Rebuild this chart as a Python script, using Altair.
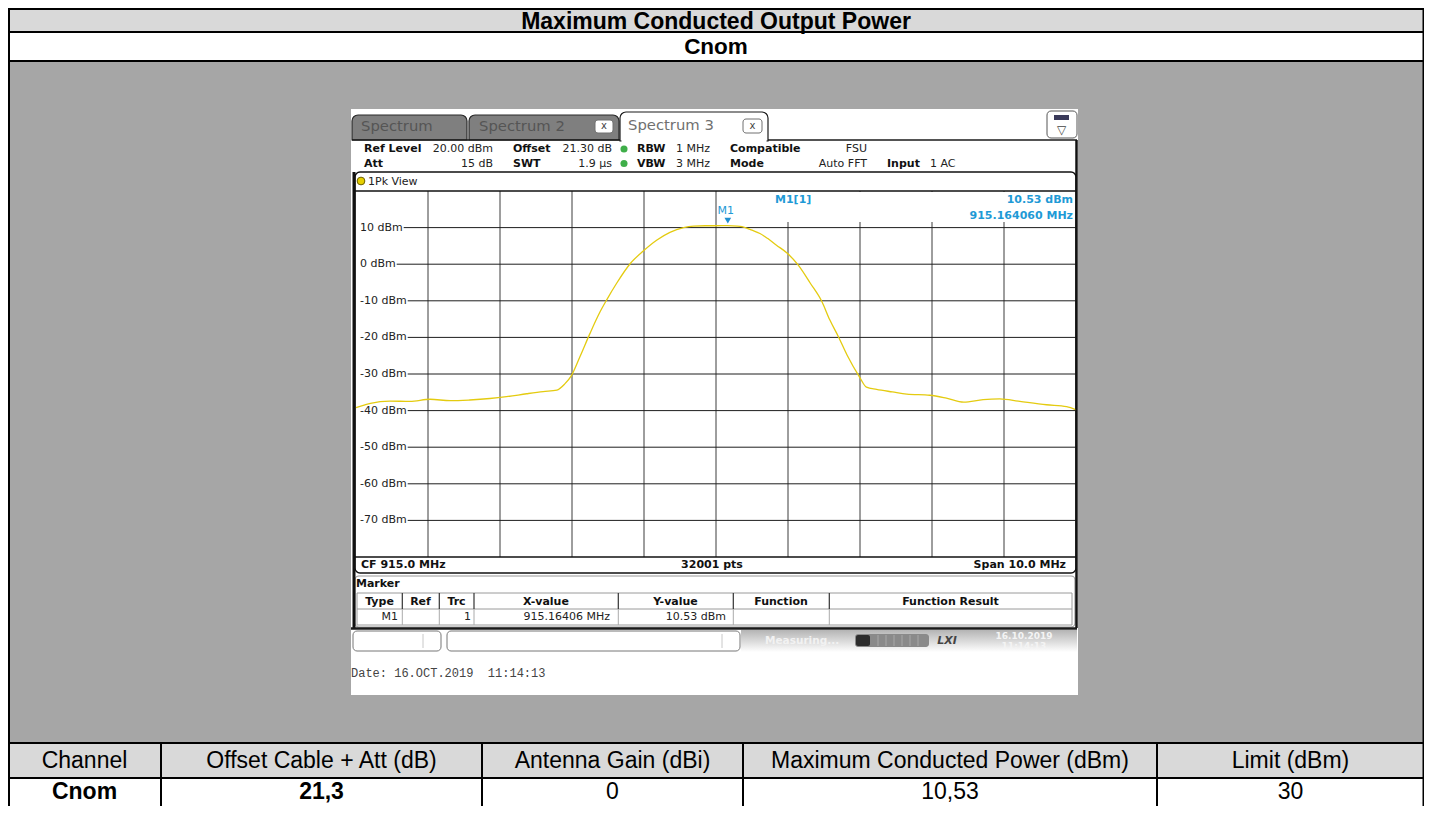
import altair as alt
import pandas as pd

# ------------------------------------------------------------------
# values
# ------------------------------------------------------------------
trace_freq_mhz = [910.00, 910.10, 910.20, 910.47, 910.75, 911.03, 911.31, 911.58, 911.86, 912.09,
                  912.37, 912.60, 912.79, 912.90, 912.99, 913.11, 913.25, 913.39, 913.48, 913.62,
                  913.81, 913.99, 914.18, 914.36, 914.55, 914.69, 914.85, 915.00, 915.16, 915.30,
                  915.36, 915.50, 915.61, 915.72, 915.84, 915.99, 916.14, 916.31, 916.47, 916.58,
                  916.70, 916.82, 916.99, 917.09, 917.23, 917.45, 917.65, 917.97, 918.20, 918.44,
                  918.71, 918.94, 919.22, 919.59, 919.87, 920.00]
trace_level_dbm = [-39.2, -38.6, -38.0, -37.4, -37.5, -36.9, -37.3, -37.1, -36.7, -36.2,
                   -35.4, -34.8, -34.4, -32.7, -30.5, -25.3, -18.9, -13.0, -9.8, -5.2,
                   0.2, 3.6, 6.6, 8.7, 10.0, 10.4, 10.5, 10.5, 10.53, 10.4,
                   10.25, 9.3, 8.4, 7.0, 5.2, 3.0, -0.2, -5.2, -10.2, -15.2,
                   -19.8, -24.8, -30.7, -33.6, -34.2, -34.9, -35.5, -35.8, -36.6, -37.7,
                   -37.0, -36.8, -37.5, -38.4, -38.9, -39.8]

span_mhz = [910.0, 920.0]
level_range_dbm = [-80.0, 20.0]
grid_freq_mhz = [911, 912, 913, 914, 915, 916, 917, 918, 919]
grid_level_dbm = [10, 0, -10, -20, -30, -40, -50, -60, -70]
grid_level_labels = ["10 dBm", "0 dBm", "-10 dBm", "-20 dBm", "-30 dBm",
                     "-40 dBm", "-50 dBm", "-60 dBm", "-70 dBm"]

marker_freq_mhz = [915.16406]
marker_level_dbm = [10.53]
marker_name = ["M1"]
marker_readout = ["M1[1]", "10.53 dBm", "915.164060 MHz"]

report_title = ["Maximum Conducted Output Power"]
report_subtitle = ["Cnom"]
table_headers = ["Channel", "Offset Cable + Att (dB)", "Antenna Gain (dBi)",
                 "Maximum Conducted Power (dBm)", "Limit (dBm)"]
table_values_bold = ["Cnom", "21,3"]
table_values_plain = ["0", "10,53", "30"]

tab_names = ["Spectrum", "Spectrum 2", "Spectrum 3"]
setting_keys = ["Ref Level", "Offset", "RBW", "Compatible", "Att", "SWT", "VBW", "Mode", "Input"]
setting_values_right = ["20.00 dBm", "21.30 dB", "FSU", "15 dB", "1.9 µs", "Auto FFT"]
setting_values_left = ["1 MHz", "3 MHz", "1 AC"]
trace_view = ["1Pk View"]
footer_left = ["CF 915.0 MHz"]
footer_mid = ["32001 pts"]
footer_right = ["Span 10.0 MHz"]
marker_title = ["Marker"]
marker_columns = ["Type", "Ref", "Trc", "X-value", "Y-value", "Function", "Function Result"]
marker_row = ["M1", "1", "915.16406 MHz", "10.53 dBm"]
date_text = ["Date: 16.OCT.2019\u00a0\u00a011:14:13"]
status_text = ["Measuring..."]
status_clock = ["16.10.2019", "11:14:13"]
lxi_text = ["LXI"]

# ------------------------------------------------------------------
# layout
# ------------------------------------------------------------------
UI = "DejaVu Sans"
DOC = "Liberation Sans"
MONO = "Liberation Mono"
BLUE = "#1f9ad6"

PX = alt.Scale(domain=[8, 1424], range=[0, 1416], nice=False, zero=False)
PY = alt.Scale(domain=[8, 806], range=[0, 798], nice=False, zero=False)
FX = alt.Scale(domain=span_mhz, range=[348, 1068], nice=False, zero=False)
FY = alt.Scale(domain=level_range_dbm, range=[549, 183], nice=False, zero=False)

layers = []


def boxes(rows, **mark):
    df = pd.DataFrame(rows, columns=["x0", "x1", "y0", "y1", "fill", "stroke"])
    return alt.Chart(df).mark_rect(**mark).encode(
        x=alt.X("x0:Q", scale=PX, axis=None), x2="x1:Q",
        y=alt.Y("y0:Q", scale=PY, axis=None), y2="y1:Q",
        fill=alt.Fill("fill:N", scale=None),
        stroke=alt.Stroke("stroke:N", scale=None),
    )


def lines(rows, color, width=1.0):
    df = pd.DataFrame(rows, columns=["x0", "x1", "y0", "y1"])
    return alt.Chart(df).mark_rule(color=color, strokeWidth=width).encode(
        x=alt.X("x0:Q", scale=PX, axis=None), x2="x1:Q",
        y=alt.Y("y0:Q", scale=PY, axis=None), y2="y1:Q",
    )


def words(texts, xs, ys, size, font=UI, weight="normal", color="#000000", align="left", **kw):
    df = pd.DataFrame({"t": texts, "px": xs, "py": ys})
    return alt.Chart(df).mark_text(font=font, fontSize=size, fontWeight=weight, color=color,
                                   align=align, baseline="middle", **kw).encode(
        x=alt.X("px:Q", scale=PX, axis=None), y=alt.Y("py:Q", scale=PY, axis=None), text="t:N")


def dots(xs, ys, **mark):
    df = pd.DataFrame({"px": xs, "py": ys})
    return alt.Chart(df).mark_point(**mark).encode(
        x=alt.X("px:Q", scale=PX, axis=None), y=alt.Y("py:Q", scale=PY, axis=None))


# ---------------- report frame ----------------
layers.append(boxes([
    [8, 1424, 8, 32, "#d9d9d9", "transparent"],
    [8, 1424, 32, 61, "#ffffff", "transparent"],
    [8, 1424, 61, 743, "#a6a6a6", "transparent"],
    [8, 1424, 743, 778, "#d9d9d9", "transparent"],
    [8, 1424, 778, 806, "#ffffff", "transparent"],
]))
layers.append(lines([
    [8, 1424, 9, 9], [8, 1424, 32, 32], [8, 1424, 61, 61], [8, 1424, 743, 743], [8, 1424, 778, 778],
    [9, 9, 8, 806], [1423.5, 1423.5, 8, 806],
    [161, 161, 743, 806], [482, 482, 743, 806], [743, 743, 743, 806], [1157, 1157, 743, 806],
], "#000000", 2))
layers.append(words(report_title, [716], [21.5], 23, font=DOC, weight="bold", align="center"))
layers.append(words(report_subtitle, [716], [47], 22.5, font=DOC, weight="bold", align="center"))
col_centers = [84.5, 321.5, 612.5, 950, 1290.5]
layers.append(words(table_headers, col_centers, [761] * 5, 23, font=DOC, align="center"))
layers.append(words(table_values_bold, col_centers[:2], [792] * 2, 23, font=DOC, weight="bold", align="center"))
layers.append(words(table_values_plain, col_centers[2:], [792] * 3, 23, font=DOC, align="center"))

# ---------------- instrument screen ----------------
layers.append(boxes([[351, 1078, 109, 695, "#ffffff", "transparent"]]))
layers.append(boxes([
    [352, 467, 115, 140, "#7f7f7f", "#2a2a2a"],
    [469, 619, 115, 140, "#7f7f7f", "#2a2a2a"],
    [620, 768, 112, 141, "#ffffff", "#1a1a1a"],
], cornerRadiusTopLeft=6, cornerRadiusTopRight=6, strokeWidth=1.2))
layers.append(boxes([[621.5, 766.5, 139.5, 142, "#ffffff", "transparent"]]))
layers.append(lines([[352, 620, 140, 140], [768, 1077, 140, 140]], "#1a1a1a", 1.5))
layers.append(words(tab_names[:2], [361, 479], [127, 127], 14.8, color="#555555"))
layers.append(words(tab_names[2:], [628], [126], 14.8, color="#707070"))
layers.append(boxes([[595, 613, 120, 133, "#ffffff", "#707070"],
                     [743, 762, 119, 133, "#ffffff", "#707070"]], cornerRadius=3))
layers.append(words(["x", "x"], [604, 752.5], [126, 125.5], 10, color="#444444", align="center"))
layers.append(boxes([[1047, 1077, 111, 138, "#ffffff", "#555555"]], cornerRadius=4))
layers.append(boxes([[1054, 1069, 115, 120, "#3a3a5a", "transparent"]]))
layers.append(words(["▽"], [1061.5], [129.5], 12, color="#444444", align="center"))

# settings header
layers.append(words(setting_keys,
                    [364, 513, 637, 730, 364, 513, 637, 730, 887],
                    [149, 149, 149, 149, 163.5, 163.5, 163.5, 163.5, 163.5],
                    11, weight="bold", color="#111111"))
layers.append(words(setting_values_right, [493, 612, 867, 493, 612, 867],
                    [149, 149, 149, 163.5, 163.5, 163.5], 11, color="#222222", align="right"))
layers.append(words(setting_values_left, [676, 676, 930], [149, 163.5, 163.5], 11, color="#222222"))
layers.append(dots([624, 624], [149, 163.5], filled=True, size=50, color="#3fae49", opacity=1))

# trace window
layers.append(boxes([[355, 1076, 172, 573, "#ffffff", "#111111"]], cornerRadius=5, strokeWidth=1.5))
layers.append(dots([361], [181], filled=True, size=60, fill="#e6cf00", stroke="#6b5d00",
                   strokeWidth=1, opacity=1))
layers.append(words(trace_view, [368], [181.5], 11, color="#222222"))

# grid
vgrid = pd.DataFrame({"f": grid_freq_mhz, "lo": level_range_dbm[0], "hi": level_range_dbm[1]})
layers.append(alt.Chart(vgrid).mark_rule(color="#3c3c3c", strokeWidth=1).encode(
    x=alt.X("f:Q", scale=FX, axis=None), y=alt.Y("lo:Q", scale=FY, axis=None), y2="hi:Q"))

char_w = {" ": 3.5, "-": 4.0, "d": 7.0, "B": 7.5, "m": 10.7}
hgrid = pd.DataFrame({"lev": grid_level_dbm, "lab": grid_level_labels})
hgrid["start"] = [360 + sum(char_w.get(c, 7.0) for c in s) + 1 for s in grid_level_labels]
hgrid["end"] = 1076
layers.append(alt.Chart(hgrid).mark_rule(color="#1e1e1e", strokeWidth=1).encode(
    x=alt.X("start:Q", scale=PX, axis=None), x2="end:Q", y=alt.Y("lev:Q", scale=FY, axis=None)))
layers.append(alt.Chart(hgrid).mark_text(font=UI, fontSize=11, color="#222222", align="left",
                                         baseline="middle").encode(
    x=alt.value(352), y=alt.Y("lev:Q", scale=FY, axis=None), text="lab:N"))
layers.append(lines([[355, 1076, 191, 191], [355, 1076, 557, 557]], "#111111", 1.3))

# marker read-out area
layers.append(boxes([[738, 1075, 192, 222, "#ffffff", "transparent"]]))
layers.append(words(marker_readout[:1], [775], [200], 11, weight="bold", color=BLUE))
layers.append(words(marker_readout[1:], [1073, 1073], [200, 215.5], 11, weight="bold", color=BLUE,
                    align="right"))

# trace
trace = pd.DataFrame({"f": trace_freq_mhz, "lev": trace_level_dbm})
layers.append(alt.Chart(trace).mark_line(color="#e4cb10", strokeWidth=1.3, interpolate="monotone").encode(
    x=alt.X("f:Q", scale=FX, axis=None), y=alt.Y("lev:Q", scale=FY, axis=None)))

# marker
mk = pd.DataFrame({"f": marker_freq_mhz, "lev": marker_level_dbm, "name": marker_name})
layers.append(alt.Chart(mk).mark_point(shape="triangle-down", filled=True, size=45, color="#1f8fd0",
                                       opacity=1, yOffset=-5).encode(
    x=alt.X("f:Q", scale=FX, axis=None), y=alt.Y("lev:Q", scale=FY, axis=None)))
layers.append(alt.Chart(mk).mark_text(font=UI, fontSize=11, color=BLUE, align="center",
                                      baseline="middle", dx=-2, dy=-15).encode(
    x=alt.X("f:Q", scale=FX, axis=None), y=alt.Y("lev:Q", scale=FY, axis=None), text="name:N"))

# footer of trace window
layers.append(words(footer_left, [361], [565], 11, weight="bold", color="#111111"))
layers.append(words(footer_mid, [712], [565], 11, weight="bold", color="#111111", align="center"))
layers.append(words(footer_right, [1066], [565], 11, weight="bold", color="#111111", align="right"))

# marker table
layers.append(boxes([[355, 1075, 576, 627, "#ffffff", "#9a9a9a"]], cornerRadius=4, strokeWidth=1.2))
layers.append(words(marker_title, [356], [584], 11, weight="bold", color="#111111"))
layers.append(boxes([[357, 1072, 593, 625, "transparent", "#9a9a9a"]]))
layers.append(lines([[357, 1072, 609, 609]], "#9a9a9a", 1))
seps = [402.3, 439.3, 474, 618.3, 733.3, 829.3]
layers.append(lines([[s, s, 593, 609] for s in seps], "#333333", 1.2))
layers.append(lines([[s, s, 609, 625] for s in seps], "#aaaaaa", 1))
layers.append(words(marker_columns, [379.5, 420.5, 456.5, 546, 675.5, 781, 950.5], [601.5] * 7,
                    11, weight="bold", color="#111111", align="center"))
layers.append(words(marker_row, [398, 471, 610, 726], [617] * 4, 11, color="#222222", align="right"))

# frame of the instrument window
layers.append(lines([[354, 354, 172, 628]], "#111111", 3))
layers.append(lines([[1076.5, 1076.5, 140, 628]], "#111111", 2.5))
layers.append(lines([[351, 1077, 628.5, 628.5]], "#1a1a1a", 2.5))

# status bar
grad = alt.Gradient(gradient="linear", x1=0, x2=0, y1=0, y2=1,
                    stops=[alt.GradientStop(color="#b4b4b4", offset=0),
                           alt.GradientStop(color="#ffffff", offset=1)])
layers.append(alt.Chart(pd.DataFrame({"x0": [741], "x1": [1077], "y0": [630], "y1": [652]}))
              .mark_rect(fill=grad).encode(
    x=alt.X("x0:Q", scale=PX, axis=None), x2="x1:Q", y=alt.Y("y0:Q", scale=PY, axis=None), y2="y1:Q"))
layers.append(boxes([[353, 441, 631, 651, "#ffffff", "#777777"],
                     [447, 740, 631, 651, "#ffffff", "#777777"]], cornerRadius=4))
layers.append(lines([[423, 423, 634, 648], [722, 722, 634, 648]], "#c8c8c8", 1))
layers.append(words(status_text, [765], [641], 10.5, weight="bold", color="#f2f2f2"))
layers.append(boxes([[855, 929, 634, 647, "#8a8a8a", "transparent"]], cornerRadius=3))
layers.append(boxes([[856, 870, 635, 646, "#2d2d2d", "transparent"]], cornerRadius=2))
layers.append(lines([[x, x, 635, 646] for x in [878, 886, 894, 902, 910, 918]], "#a8a8a8", 1))
layers.append(words(lxi_text, [947], [641], 11, weight="bold", color="#444444", align="center",
                    fontStyle="italic"))
layers.append(words(status_clock, [1024, 1024], [636, 646], 9, weight="bold", color="#f4f4f4",
                    align="center"))

# date line
layers.append(words(date_text, [351], [673], 12, font=MONO, color="#444444"))

chart = alt.layer(*layers).resolve_scale(x="independent", y="independent").properties(
    width=1416, height=798, autosize=alt.AutoSizeParams(type="none"), padding=0,
    background="#ffffff",
).configure_view(stroke=None)

chart.save("out.html", embed_options={"renderer": "svg", "actions": False})
